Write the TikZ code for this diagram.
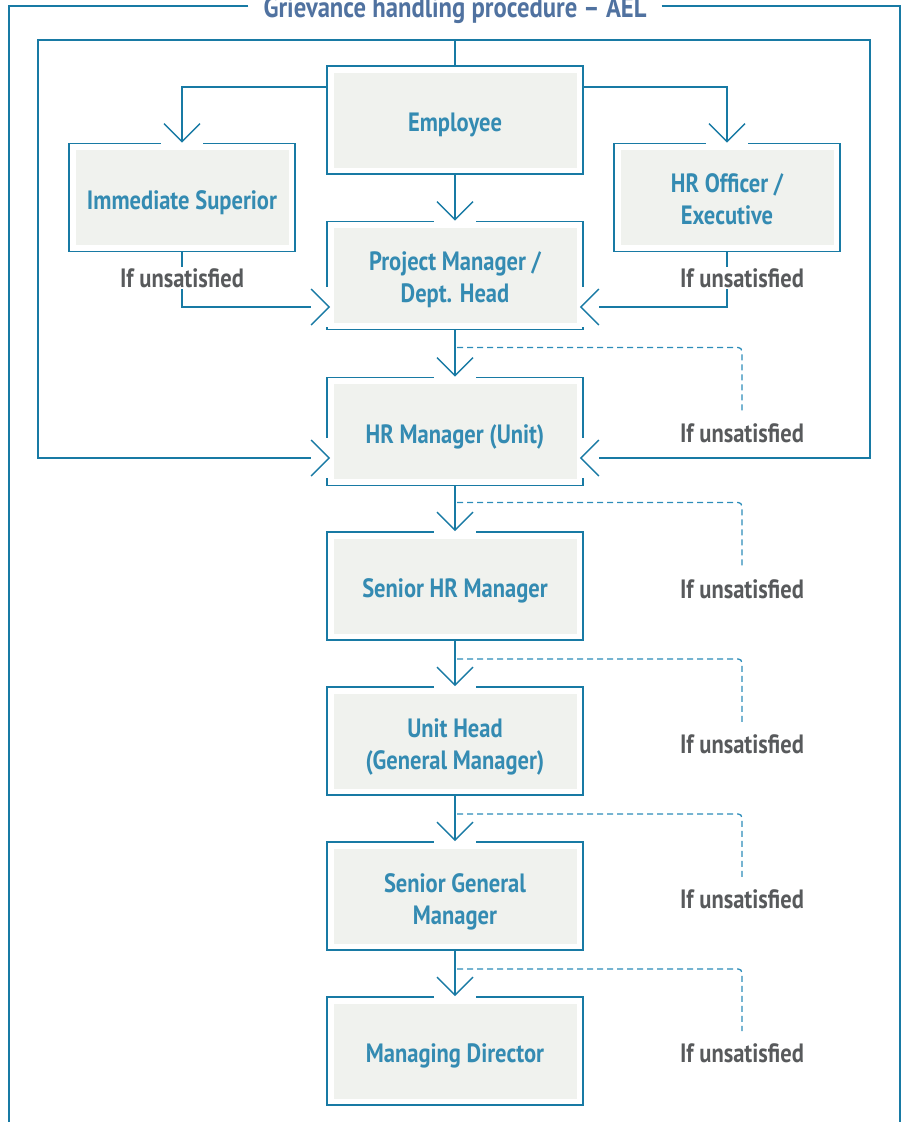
\documentclass[tikz,border=0pt]{standalone}
\usepackage{fontspec}
\setmainfont{PT Sans}[FakeStretch=0.85]
\usetikzlibrary{arrows.meta}
\definecolor{linecol}{RGB}{24,122,164}
\definecolor{boxtext}{RGB}{52,139,178}
\definecolor{boxfill}{RGB}{240,242,238}
\definecolor{labelgray}{RGB}{88,90,92}
\definecolor{titleblue}{RGB}{80,114,160}
\definecolor{dashcol}{RGB}{45,140,185}
% strut that lowers the first line of a two-line step label
\newcommand{\firstlinelow}[1]{\rule{0pt}{#1}}
\begin{document}
\begin{tikzpicture}[x=1pt,y=-1pt,
  stepbox/.style={draw=linecol, line width=1.8pt, fill=white,
    minimum width=256pt, minimum height=108pt, inner sep=0pt,
    font=\bfseries\fontsize{26.5}{32}\selectfont, text=boxtext, align=center,
    execute at begin node={\rule{0pt}{29pt}},
    path picture={\fill[boxfill]
      ([xshift=6.5pt,yshift=6.5pt]path picture bounding box.south west) rectangle
      ([xshift=-6.5pt,yshift=-6.5pt]path picture bounding box.north east);}},
  lbl/.style={font=\bfseries\fontsize{26.5}{30}\selectfont, text=labelgray,
    fill=white, inner sep=1pt},
  conn/.style={draw=linecol, line width=1.4pt, line join=miter},
  tip/.style={-{Straight Barb[length=18pt,width=36pt]}},
  dashconn/.style={draw=dashcol, line width=1.3pt, dash pattern=on 6pt off 4pt,
    rounded corners=4pt},
  frame/.style={draw=linecol, line width=1.4pt},
  patch/.style={fill=white}]

\useasboundingbox (0,0) rectangle (906,1122);

% title and outer frame
\node[font=\bfseries\fontsize{29}{34}\selectfont, text=titleblue, anchor=base,
  inner xsep=15pt, inner ysep=0pt] (title) at (455,17) {Grievance handling procedure – AEL};
\coordinate (ftop) at (0,6);
\draw[frame] (title.west |- ftop) -| (9,1135);
\draw[frame] (title.east |- ftop) -| (900,1135);

% steps
\node[stepbox] (emp) at (455,120) {Employee};
\node[stepbox, minimum width=226pt] (is) at (182,197.5) {Immediate Superior};
\node[stepbox, minimum width=226pt] (hro) at (727,197.5) {\firstlinelow{23pt}HR Officer /\\Executive};
\node[stepbox] (pm) at (455,275.5) {\firstlinelow{27pt}Project Manager /\\Dept. Head};
\node[stepbox] (hrm) at (455,431.5) {HR Manager (Unit)};
\node[stepbox] (shr) at (455,586) {Senior HR Manager};
\node[stepbox] (uh) at (455,741) {\firstlinelow{31pt}Unit Head\\(General Manager)};
\node[stepbox] (sgm) at (455,896) {\firstlinelow{31pt}Senior General\\Manager};
\node[stepbox] (md) at (455,1051) {Managing Director};

% side arrival points
\coordinate (pmL) at ([xshift=4pt,yshift=-31.5pt]pm.west);
\coordinate (pmR) at ([xshift=-4pt,yshift=-31.5pt]pm.east);
\coordinate (hrmL) at ([xshift=4pt,yshift=-26.5pt]hrm.west);
\coordinate (hrmR) at ([xshift=-4pt,yshift=-26.5pt]hrm.east);

% openings in the box borders where arrows enter
\foreach \n in {is,hro,pm,hrm,shr,uh,sgm,md}
  \fill[patch] ([xshift=-21pt,yshift=-3pt]\n.north) rectangle ([xshift=21pt,yshift=3pt]\n.north);
\foreach \c/\n in {pmL/pm.west,hrmL/hrm.west,pmR/pm.east,hrmR/hrm.east}
  \fill[patch] ([xshift=-3pt,yshift=-20pt]\n |- \c) rectangle ([xshift=3pt,yshift=20pt]\n |- \c);

% employee to first contacts
\draw[conn,tip] (emp.south) -- (pm.north);
\draw[conn,tip] ([yshift=-22pt]emp.north west) -| (is.north);
\draw[conn,tip] ([yshift=-22pt]emp.north east) -| (hro.north);

% escalation into project manager
\draw[conn] (is.south) |- ([xshift=-19pt]pmL);
\draw[conn,tip] ([xshift=-1pt]pmL) -- (pmL);
\draw[conn] (hro.south) |- ([xshift=19pt]pmR);
\draw[conn,tip] ([xshift=1pt]pmR) -- (pmR);

% direct routes from employee to HR manager
\draw[conn] (emp.north) |- (38,40) |- ([xshift=-19pt]hrmL);
\draw[conn,tip] ([xshift=-1pt]hrmL) -- (hrmL);
\draw[conn] (emp.north) |- (870,40) |- ([xshift=19pt]hrmR);
\draw[conn,tip] ([xshift=1pt]hrmR) -- (hrmR);

% main escalation chain
\draw[conn,tip] (pm.south) -- (hrm.north);
\draw[conn,tip] (hrm.south) -- (shr.north);
\draw[conn,tip] (shr.south) -- (uh.north);
\draw[conn,tip] (uh.south) -- (sgm.north);
\draw[conn,tip] (sgm.south) -- (md.north);

% conditions
\node[lbl] (l1) at (182,278) {If unsatisfied};
\node[lbl] (l2) at (742,278) {If unsatisfied};
\node[lbl] (l3) at (742,433) {If unsatisfied};
\node[lbl] (l4) at (742,589) {If unsatisfied};
\node[lbl] (l5) at (742,744) {If unsatisfied};
\node[lbl] (l6) at (742,899) {If unsatisfied};
\node[lbl] (l7) at (742,1053) {If unsatisfied};

% dashed condition branches
\draw[dashconn] ([xshift=2pt,yshift=-17pt]pm.south) -| ([yshift=11pt]l3.north);
\draw[dashconn] ([xshift=2pt,yshift=-16pt]hrm.south) -| ([yshift=11pt]l4.north);
\draw[dashconn] ([xshift=2pt,yshift=-18pt]shr.south) -| ([yshift=11pt]l5.north);
\draw[dashconn] ([xshift=2pt,yshift=-18pt]uh.south) -| ([yshift=11pt]l6.north);
\draw[dashconn] ([xshift=2pt,yshift=-18pt]sgm.south) -| ([yshift=11pt]l7.north);
\end{tikzpicture}
\end{document}
